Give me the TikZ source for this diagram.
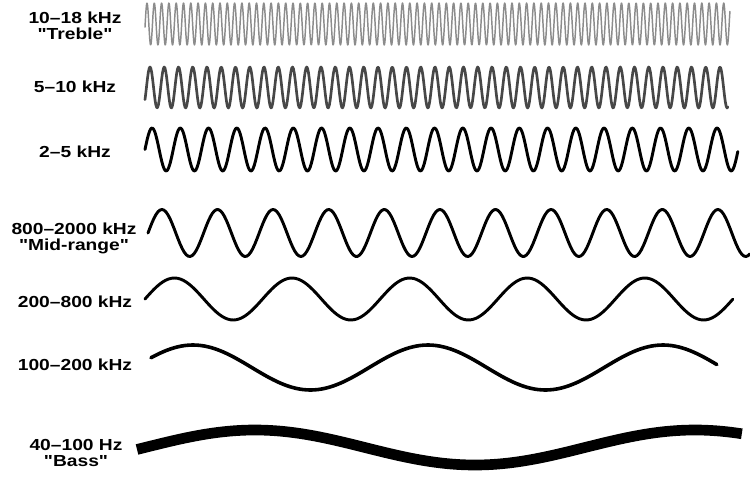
\documentclass[tikz,border=0pt]{standalone}
\usepackage{fontspec}
\newfontfamily\bandfont[FakeStretch=1.2]{Liberation Sans}

\begin{document}
\begin{tikzpicture}[x=0.75pt, y=-0.75pt,
                    band/.style={font=\bandfont\bfseries\fontsize{12}{12}\selectfont, align=center, anchor=base, inner sep=0pt},
                    wave/.style={line join=round, line cap=round},
                    fine/.style={wave, black!45, line width=1.1pt},
                    thin/.style={wave, black!72, line width=2pt},
                    mid/.style={wave, black, line width=2.2pt},
                    heavy/.style={wave, black, line width=2.7pt},
                    bass/.style={line cap=butt, black, line width=8pt}]

    \useasboundingbox (0,0) rectangle (750,482);

    \node[band] (b0) at (75,39)  {10–18 kHz\\"Treble"};
    \node[band] (b1) at (75,92)  {5–10 kHz};
    \node[band] (b2) at (75,157) {2–5 kHz};
    \node[band] (b3) at (74,250) {800–2000 kHz\\"Mid-range"};
    \node[band] (b4) at (75,307) {200–800 kHz};
    \node[band] (b5) at (75,370) {100–200 kHz};
    \node[band] (b6) at (76,466) {40–100 Hz\\"Bass"};

    % x = start + period*t, t counted in cycles
    \draw[fine]  plot[variable=\t, domain=0:80.14, samples=1600] ({145+7.3*\t},   {24-21*sin(360*mod(\t,1)-8.6)});
    \draw[thin]  plot[variable=\t, domain=0:40.91, samples=700]  ({145+14.25*\t},  {87.5-20.5*sin(360*mod(\t,1)-36.3)});
    \draw[mid]   plot[variable=\t, domain=0:20.99, samples=500]  ({145+28.25*\t},  {149.5-21.5*sin(360*mod(\t,1))});
    \draw[mid]   plot[variable=\t, domain=0:10.83, samples=300]  ({148+55.6*\t},   {233-23.5*sin(360*mod(\t,1))});
    \draw[mid]   plot[variable=\t, domain=0:5,     samples=200]  ({145+117.6*\t},  {299-21*sin(360*mod(\t,1))});
    \draw[heavy] plot[variable=\t, domain=0:2.409, samples=150]  ({151+235*\t},    {367.5-22.5*sin(360*mod(\t,1)+25.7)});
    \draw[bass]  plot[variable=\t, domain=0:1.375, samples=120]  ({137+440*\t},    {447.5-17.5*sin(360*mod(\t,1)-6.5)});
\end{tikzpicture}
\end{document}
